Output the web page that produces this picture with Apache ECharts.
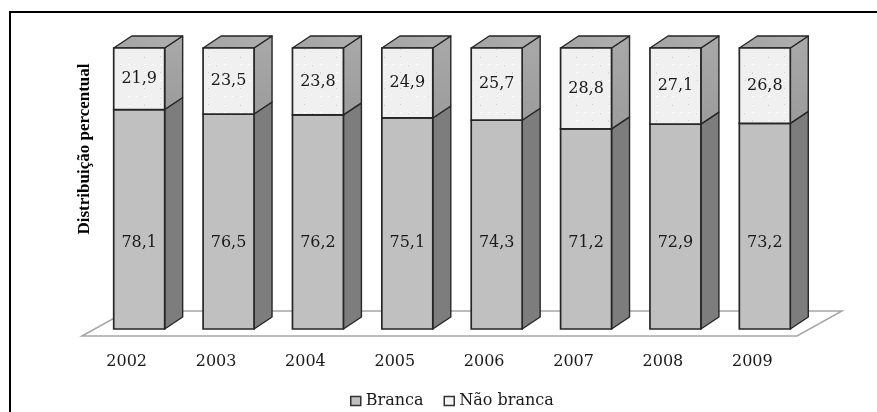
<!DOCTYPE html>
<html>
<head>
<meta charset="utf-8">
<script src="https://cdn.jsdelivr.net/npm/echarts@6/dist/echarts.min.js"></script>
<style>
  html, body { margin: 0; padding: 0; background: #ffffff; }
  #chart { width: 877px; height: 412px; }
</style>
</head>
<body>
<div id="chart"></div>
<script>
// Percentual distribution by year
const years = ['2002', '2003', '2004', '2005', '2006', '2007', '2008', '2009'];
const branca = [78.1, 76.5, 76.2, 75.1, 74.3, 71.2, 72.9, 73.2];
const naoBranca = [21.9, 23.5, 23.8, 24.9, 25.7, 28.8, 27.1, 26.8];
const seriesNames = ['Branca', 'Não branca'];
const yTitle = 'Distribuição percentual';

// 3D look: bar depth offset, floor depth offset and the bars' shift onto the floor
const BAR_DX = 18, BAR_DY = -12;
const FLOOR_DX = 45, FLOOR_DY = -25;
const SHIFT_X = 12.5, SHIFT_Y = 7;
const BAR_FRACTION = 0.57;
const EDGE = '#262626';
const TEXT_FONT = 'DejaVu Serif';
// height (in axis units) where the lower segment's label sits
const LOWER_LABEL_LEVEL = 30.6;

// light mottled texture for the upper segment
function speckle() {
  const c = document.createElement('canvas');
  c.width = 48; c.height = 48;
  const g = c.getContext('2d');
  g.fillStyle = '#f0f0f0';
  g.fillRect(0, 0, 48, 48);
  let h = 12345;
  const next = () => (h = (h * 1103515245 + 12345) & 0x7fffffff);
  for (let k = 0; k < 420; k++) {
    const x = next() % 48;
    const y = next() % 48;
    const s = 205 + (next() % 40);
    g.fillStyle = 'rgb(' + s + ',' + s + ',' + s + ')';
    g.fillRect(x, y, 1 + (next() % 2), 1 + (next() % 2));
  }
  for (let k = 0; k < 160; k++) {
    const x = next() % 48;
    const y = next() % 48;
    g.fillStyle = '#fbfbfb';
    g.fillRect(x, y, 2, 1);
  }
  return c;
}
const speckleFill = { image: speckle(), repeat: 'repeat' };

function barGeometry(api, idx, from, to) {
  const base = api.coord([idx, from]);
  const top = api.coord([idx, to]);
  const hw = api.size([1, 0])[0] * BAR_FRACTION / 2;
  const cx = base[0] + SHIFT_X;
  return { cx: cx, hw: hw, yb: base[1], yt: top[1] };
}

function sideFace(g, fill) {
  const xr = g.cx + g.hw;
  return {
    type: 'polygon',
    shape: { points: [[xr, g.yt], [xr + BAR_DX, g.yt + BAR_DY], [xr + BAR_DX, g.yb + BAR_DY], [xr, g.yb]] },
    style: { fill: fill, stroke: EDGE, lineWidth: 1.4, lineJoin: 'round' }
  };
}

function frontFace(g, fill) {
  return {
    type: 'rect',
    shape: { x: g.cx - g.hw, y: g.yt, width: g.hw * 2, height: g.yb - g.yt },
    style: { fill: fill, stroke: EDGE, lineWidth: 1.7 }
  };
}

function valueText(x, y, txt) {
  return {
    type: 'text',
    x: x, y: y,
    style: {
      text: txt, fill: '#1a1a1a', font: '16px "' + TEXT_FONT + '"',
      align: 'center', verticalAlign: 'middle'
    },
    z2: 10
  };
}

function fmt(v) { return v.toFixed(1).replace('.', ','); }

function renderLower(params, api) {
  const idx = api.value(0), v = api.value(1);
  const g = barGeometry(api, idx, 0, v);
  const ly = api.coord([idx, LOWER_LABEL_LEVEL])[1];
  return {
    type: 'group',
    children: [
      sideFace(g, '#7d7d7d'),
      frontFace(g, '#c0c0c0'),
      valueText(g.cx, ly, fmt(v))
    ]
  };
}

function renderUpper(params, api) {
  const idx = api.value(0), v = api.value(1);
  const start = branca[idx];
  const g = barGeometry(api, idx, start, start + v);
  const xl = g.cx - g.hw, xr = g.cx + g.hw;
  return {
    type: 'group',
    children: [
      sideFace(g, {
        type: 'linear', x: 0, y: 0, x2: 0, y2: 1,
        colorStops: [{ offset: 0, color: '#a9a9a9' }, { offset: 1, color: '#9c9c9c' }]
      }),
      {
        type: 'polygon',
        shape: { points: [[xl, g.yt], [xl + BAR_DX, g.yt + BAR_DY], [xr + BAR_DX, g.yt + BAR_DY], [xr, g.yt]] },
        style: {
          fill: { type: 'linear', x: 0, y: 0, x2: 1, y2: 0,
            colorStops: [{ offset: 0, color: '#a3a3a3' }, { offset: 1, color: '#b0b0b0' }] },
          stroke: EDGE, lineWidth: 1.4, lineJoin: 'round'
        }
      },
      frontFace(g, speckleFill),
      valueText(g.cx, (g.yt + g.yb) / 2, fmt(v))
    ]
  };
}

function renderFloor(params, api) {
  const cs = params.coordSys;
  const yf = cs.y + cs.height + SHIFT_Y;
  const x0 = cs.x, x1 = cs.x + cs.width;
  return {
    type: 'polygon',
    shape: { points: [[x0, yf], [x0 + FLOOR_DX, yf + FLOOR_DY], [x1 + FLOOR_DX, yf + FLOOR_DY], [x1, yf]] },
    style: { fill: '#ffffff', stroke: '#a6a6a6', lineWidth: 1.5 }
  };
}

const chart = echarts.init(document.getElementById('chart'), null, { renderer: 'canvas' });

chart.setOption({
  animation: false,
  backgroundColor: '#ffffff',
  grid: { left: 82, right: 80, top: 48, bottom: 83 },
  xAxis: {
    type: 'category',
    data: years,
    axisLine: { show: false },
    axisTick: { show: false },
    axisLabel: { margin: 25, fontFamily: TEXT_FONT, fontSize: 16, color: '#1a1a1a' }
  },
  yAxis: {
    type: 'value', min: 0, max: 100, interval: 20,
    axisLine: { show: false }, axisTick: { show: false },
    axisLabel: { show: false }, splitLine: { show: false }
  },
  legend: {
    left: 345, top: 388,
    itemWidth: 10, itemHeight: 9, itemGap: 20,
    icon: 'rect',
    textStyle: { fontFamily: TEXT_FONT, fontSize: 16, color: '#1a1a1a' },
    data: [
      { name: seriesNames[0], itemStyle: { color: '#c0c0c0', borderColor: '#333333', borderWidth: 1.5 } },
      { name: seriesNames[1], itemStyle: { color: '#f4f4f4', borderColor: '#333333', borderWidth: 1.5 } }
    ]
  },
  graphic: [
    {
      type: 'rect', silent: true,
      shape: { x: 10, y: 12, width: 900, height: 440 },
      style: { fill: null, stroke: '#000000', lineWidth: 2 }
    },
    {
      type: 'text', silent: true,
      x: 85, y: 149, rotation: Math.PI / 2,
      style: {
        text: yTitle, font: 'bold 17px "Liberation Serif"', fill: '#000000',
        align: 'center', verticalAlign: 'middle'
      }
    }
  ],
  series: [
    {
      type: 'custom', name: 'floor', silent: true, z: 1,
      renderItem: renderFloor,
      data: [[0, 0]]
    },
    {
      type: 'custom', name: seriesNames[0], z: 2,
      itemStyle: { color: '#c0c0c0' },
      renderItem: renderLower,
      encode: { x: 0, y: 1 },
      data: branca.map((v, i) => [i, v])
    },
    {
      type: 'custom', name: seriesNames[1], z: 3,
      itemStyle: { color: '#f4f4f4' },
      renderItem: renderUpper,
      encode: { x: 0, y: 1 },
      data: naoBranca.map((v, i) => [i, v])
    }
  ]
});
</script>
</body>
</html>
